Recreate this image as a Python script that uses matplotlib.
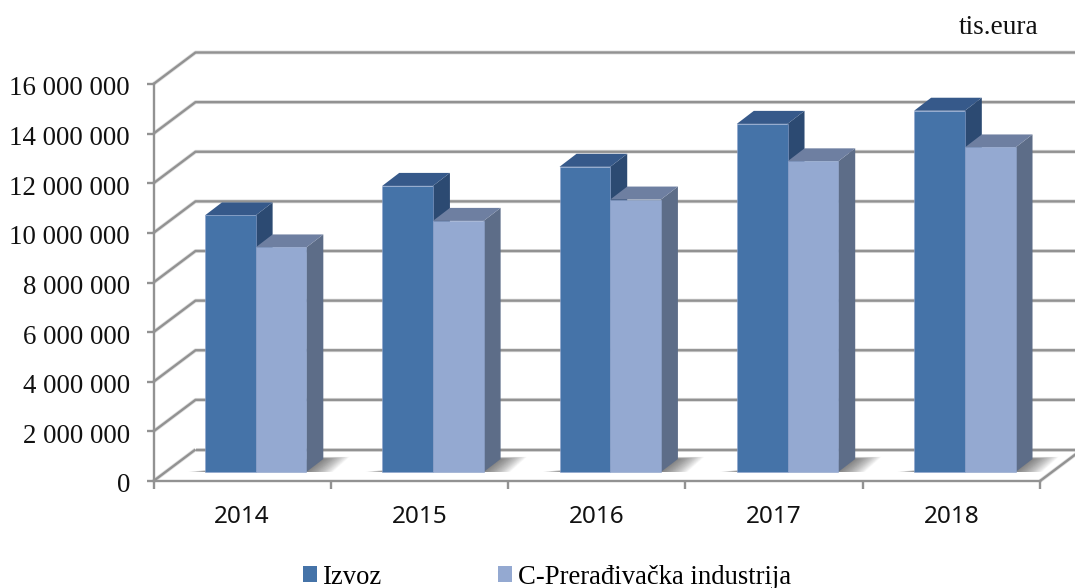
import matplotlib
matplotlib.use('Agg')
import matplotlib.pyplot as plt
from matplotlib.patches import Polygon, Patch
from matplotlib.transforms import ScaledTranslation

years = ['2014', '2015', '2016', '2017', '2018']
izvoz = [10340000, 11530000, 12300000, 14030000, 14560000]
preradjivacka = [9050000, 10120000, 10980000, 12520000, 13080000]
y_ticks = [0, 2000000, 4000000, 6000000, 8000000, 10000000, 12000000, 14000000, 16000000]

W, H = 1075, 588
LEFT, RIGHT, BOTTOM, TOP = 153.5, 1040, 481, 84
GRID = '#929292'
SERIF = 'Liberation Serif'

fig = plt.figure(figsize=(W / 100, H / 100), dpi=100)
ax = fig.add_axes([LEFT / W, 1 - BOTTOM / H, (RIGHT - LEFT) / W, (BOTTOM - TOP) / H])
ax.set_xlim(0, len(years))
ax.set_ylim(0, 16000000)
ax.patch.set_visible(False)

# pixel -> data unit factors, the 3d look is only offsets
px_x = len(years) / (RIGHT - LEFT)
px_y = 16000000 / (BOTTOM - TOP)
wall_dx, wall_dy = 42 * px_x, 31.5 * px_y
floor_dx, floor_dy = 13 * px_x, 9 * px_y
depth_dx, depth_dy = 17 * px_x, 13 * px_y
bar_w = 50.7 * px_x


def poly(pts, color, z, alpha=1.0, ec='none', lw=0):
    p = Polygon(pts, closed=True, fc=color, ec=ec, lw=lw, alpha=alpha, zorder=z, clip_on=False)
    ax.add_patch(p)


def wall_line(xs, ys, z):
    ax.plot(xs, ys, color='#dedede', lw=2.8, zorder=z, clip_on=False, solid_capstyle='butt')
    ax.plot(xs, ys, color=GRID, lw=1.7, zorder=z + 0.01, clip_on=False, solid_capstyle='butt')


# walls
x_end = len(years)
for v in y_ticks[1:]:
    wall_line([0, wall_dx, x_end + wall_dx], [v, v + wall_dy, v + wall_dy], 1)

# floor and its edges
wall_line([wall_dx, x_end + wall_dx], [wall_dy, wall_dy], 1.3)
wall_line([0, wall_dx], [0, wall_dy], 1.3)
wall_line([x_end, x_end + wall_dx], [0, wall_dy], 1.3)

for i in range(len(years)):
    x0 = i + 0.29
    x2 = x0 + 2 * bar_w
    # soft shadow, stacked see-through layers
    for k in range(30):
        r = 44 * (1 - k / 30)
        top_y = floor_dy + depth_dy + r * 0.05 * px_y
        poly([(x0 - r * 0.4 * px_x, floor_dy),
              (x2 + r * 0.6 * px_x, floor_dy),
              (x2 + depth_dx + r * 0.6 * px_x, top_y),
              (x2 + depth_dx, top_y)],
             '#3a3a3a', 1.5, alpha=0.028)

    # one box per series, right one last so it covers the side of the left one
    for j, (val, front, top, side) in enumerate([
            (izvoz[i], '#4573a8', '#36598a', '#2c4a72'),
            (preradjivacka[i], '#94a9d1', '#6e7fa1', '#5d6d88')]):
        xa = x0 + j * bar_w
        xb = xa + bar_w
        y0 = floor_dy
        y1 = floor_dy + val
        z = 2 + j
        poly([(xb, y0), (xb + depth_dx, y0 + depth_dy), (xb + depth_dx, y1 + depth_dy), (xb, y1)], side, z)
        poly([(xa, y1), (xb, y1), (xb + depth_dx, y1 + depth_dy), (xa + depth_dx, y1 + depth_dy)], top, z)
        poly([(xa, y0), (xb, y0), (xb, y1), (xa, y1)], front, z + 0.1, ec='#8ea4cc', lw=0.4)

# axes
for s in ['top', 'right']:
    ax.spines[s].set_visible(False)
for s in ['left', 'bottom']:
    ax.spines[s].set_color(GRID)
    ax.spines[s].set_linewidth(1.7)
    ax.spines[s].set_zorder(1.4)

ax.set_yticks(y_ticks)
ax.set_yticklabels(['{:,}'.format(v).replace(',', ' ') for v in y_ticks],
                   family=SERIF, fontsize=19.4, color='#111111')
ax.tick_params(axis='y', length=5, width=1.7, color=GRID, pad=12)
# labels sit a little lower than the ticks in the original
nudge = ScaledTranslation(0, -1.4 / 72, fig.dpi_scale_trans)
for lab in ax.get_yticklabels():
    lab.set_transform(lab.get_transform() + nudge)
ax.set_xticks(range(len(years) + 1))
ax.set_xticklabels([])
ax.tick_params(axis='x', which='major', length=6, width=1.7, color=GRID)
ax.set_xticks([i + 0.5 for i in range(len(years))], minor=True)
ax.set_xticklabels(years, minor=True, family='Noto Sans', fontsize=17.5, color='#111111')
ax.tick_params(axis='x', which='minor', length=0, pad=17)

fig.text(999 / W, 1 - 28 / H, 'tis.eura', family=SERIF, fontsize=19.7, color='#111111', ha='center', va='center')

handles = [Patch(fc='#4573a8', ec='none'), Patch(fc='#94a9d1', ec='none')]
fig.legend(handles, ['Izvoz', 'C-Prerađivačka industrija'], loc='center', ncol=2,
           bbox_to_anchor=(547 / W, 1 - 577 / H), frameon=False,
           prop={'family': SERIF, 'size': 19.2}, handlelength=0.53, handleheight=0.53,
           handletextpad=0.23, columnspacing=4.35, borderpad=0, labelspacing=0)

fig.savefig('out.png', dpi=100)
